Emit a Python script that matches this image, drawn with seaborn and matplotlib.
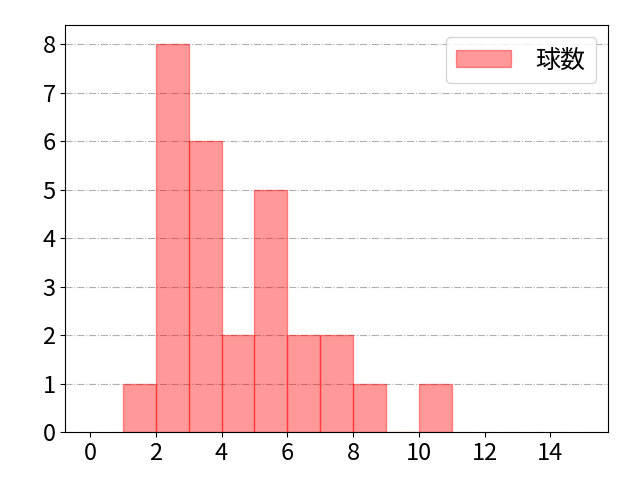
import matplotlib
matplotlib.use("Agg")
import matplotlib.pyplot as plt
import numpy as np
import pandas as pd
import seaborn as sns

# histogram bins (left edges) and counts
bin_left = [1, 2, 3, 4, 5, 6, 7, 8, 9, 10]
counts = [1, 8, 6, 2, 5, 2, 2, 1, 0, 1]
bin_edges = list(range(1, 12))
label = "球数"

plt.rcParams["font.family"] = ["Noto Sans CJK JP", "DejaVu Sans"]
plt.rcParams["font.size"] = 17

frame = pd.DataFrame({"value": bin_left, "count": counts})

fig, ax = plt.subplots(figsize=(6.4, 4.8), dpi=100)
fig.subplots_adjust(left=0.102, right=0.95, top=0.948, bottom=0.1)
ax.set_axisbelow(True)
ax.grid(axis="y", linestyle="-.", color="#b0b0b0", linewidth=0.8)
sns.histplot(
    data=frame,
    x="value",
    weights="count",
    bins=bin_edges,
    color="red",
    edgecolor=(1.0, 0.0, 0.0, 0.4),
    linewidth=1.0,
    alpha=0.4,
    label=label,
    ax=ax,
)
ax.set_xlim(-0.75, 15.75)
ax.set_ylim(0, 8.4)
ax.set_xticks(np.arange(0, 16, 2))
ax.set_yticks(np.arange(0, 9, 1))
ax.set_xlabel("")
ax.set_ylabel("")
ax.legend(loc="upper right", fontsize=18, handlelength=2.2, handletextpad=1.0)
fig.savefig("out.png", dpi=100)
